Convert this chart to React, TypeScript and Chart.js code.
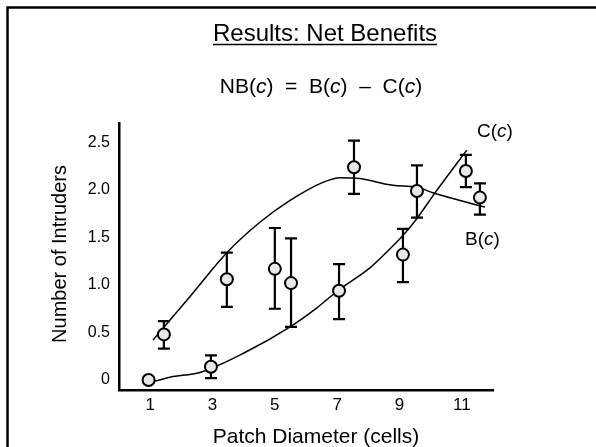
import React, { useEffect, useRef } from "react";
import { Chart, registerables } from "chart.js";

Chart.register(...registerables);

// ---- data ----
const xTicks = [1, 3, 5, 7, 9, 11];
const yTicks = [0, 0.5, 1.0, 1.5, 2.0, 2.5];

// observed points near the benefit curve B(c)
const bX = [1.44, 3.46, 5.52, 7.54, 9.56, 11.58];
const bY = [0.48, 1.06, 1.02, 2.24, 1.99, 1.92];
const bLo = [0.33, 0.77, 0.56, 1.96, 1.71, 1.74];
const bHi = [0.62, 1.34, 1.49, 2.52, 2.26, 2.07];

// observed points near the cost curve C(c)
const cX = [0.95, 2.95, 5.0, 7.06, 9.11, 11.13];
const cY = [0, 0.14, 1.17, 0.94, 1.32, 2.2];
const cLo = [null, 0.02, 0.75, 0.64, 1.03, 2.03];
const cHi = [null, 0.26, 1.6, 1.22, 1.59, 2.37];

// fitted curves
const bCurveX = [1.09, 2.28, 3.46, 4.52, 5.49, 6.54, 7.09, 7.73, 8.79, 9.56, 10.07, 11.74];
const bCurveY = [0.42, 0.88, 1.34, 1.66, 1.89, 2.08, 2.13, 2.12, 2.05, 2.03, 1.97, 1.82];
const cCurveX = [0.96, 1.64, 2.6, 4.04, 5.49, 6.35, 7.06, 8.05, 8.6, 9.11, 9.56, 10.14, 11.16];
const cCurveY = [-0.03, 0.03, 0.08, 0.29, 0.56, 0.76, 0.95, 1.18, 1.35, 1.52, 1.7, 1.97, 2.42];

const titleText = "Results: Net Benefits";
const xTitle = "Patch Diameter (cells)";
const yTitle = "Number of Intruders";

const FONT = "'Liberation Sans', Arial, Helvetica, sans-serif";

const zip = (xs: number[], ys: number[]) => xs.map((x, i) => ({ x, y: ys[i] }));

function drawRich(ctx: CanvasRenderingContext2D, parts: [string, boolean][], size: number, cx: number, y: number, align: "center" | "left") {
  const fontN = `${size}px ${FONT}`;
  const fontI = `italic ${size}px ${FONT}`;
  let total = 0;
  for (const [t, it] of parts) {
    ctx.font = it ? fontI : fontN;
    total += ctx.measureText(t).width;
  }
  let x = align === "center" ? cx - total / 2 : cx;
  ctx.textAlign = "left";
  for (const [t, it] of parts) {
    ctx.font = it ? fontI : fontN;
    ctx.fillText(t, x, y);
    x += ctx.measureText(t).width;
  }
}

const decor = {
  id: "decor",
  beforeDraw(chart: any) {
    const ctx = chart.ctx;
    ctx.save();
    ctx.fillStyle = "#fff";
    ctx.fillRect(0, 0, chart.width, chart.height);
    ctx.strokeStyle = "#000";
    ctx.lineWidth = 2.5;
    ctx.strokeRect(7.5, 7.5, 900, 900);
    ctx.restore();
  },
  afterDatasetDraw(chart: any, args: any) {
    if (args.index !== 2) return;
    const ctx = chart.ctx;
    const xs = chart.scales.x;
    const ys = chart.scales.y;
    ctx.save();
    ctx.strokeStyle = "#000";
    ctx.lineWidth = 2.2;
    const draw = (X: number[], lo: (number | null)[], hi: (number | null)[]) => {
      X.forEach((xv, i) => {
        const l = lo[i];
        const h = hi[i];
        if (l == null || h == null) return;
        const px = xs.getPixelForValue(xv);
        const pl = ys.getPixelForValue(l);
        const ph = ys.getPixelForValue(h);
        ctx.beginPath();
        ctx.moveTo(px, pl);
        ctx.lineTo(px, ph);
        ctx.moveTo(px - 6, pl);
        ctx.lineTo(px + 6, pl);
        ctx.moveTo(px - 6, ph);
        ctx.lineTo(px + 6, ph);
        ctx.stroke();
      });
    };
    draw(bX, bLo, bHi);
    draw(cX, cLo, cHi);
    ctx.restore();
  },
  afterDraw(chart: any) {
    const ctx = chart.ctx;
    ctx.save();
    ctx.fillStyle = "#000";
    ctx.textBaseline = "alphabetic";
    // title
    ctx.font = `24px ${FONT}`;
    ctx.textAlign = "center";
    const tw = ctx.measureText(titleText).width;
    const tcx = 325;
    ctx.fillText(titleText, tcx, 41);
    ctx.strokeStyle = "#000";
    ctx.lineWidth = 1.5;
    ctx.beginPath();
    ctx.moveTo(tcx - tw / 2, 44.5);
    ctx.lineTo(tcx + tw / 2, 44.5);
    ctx.stroke();
    // formula
    drawRich(ctx, [["NB(", false], ["c", true], [")  =  B(", false], ["c", true], [")  \u2013  C(", false], ["c", true], [")", false]], 21, 321, 93, "center");
    // curve labels
    drawRich(ctx, [["C(", false], ["c", true], [")", false]], 19, 477, 137, "left");
    drawRich(ctx, [["B(", false], ["c", true], [")", false]], 19, 465, 245, "left");
    // axis titles
    ctx.font = `21px ${FONT}`;
    ctx.textAlign = "center";
    ctx.fillText(xTitle, 316, 443);
    ctx.save();
    ctx.translate(66, 254);
    ctx.rotate(-Math.PI / 2);
    ctx.font = `20px ${FONT}`;
    ctx.fillText(yTitle, 0, 0);
    ctx.restore();
    ctx.restore();
  },
};

export default function App() {
  const ref = useRef<HTMLCanvasElement>(null);
  useEffect(() => {
    if (!ref.current) return;
    const chart = new Chart(ref.current, {
      type: "scatter",
      data: {
        datasets: [
          {
            data: zip(bX, bY),
            showLine: false,
            pointRadius: 6,
            pointHoverRadius: 6,
            pointBorderWidth: 2,
            pointBorderColor: "#000",
            pointBackgroundColor: "#e8e8e8",
          },
          {
            data: zip(cX, cY),
            showLine: false,
            pointRadius: 6,
            pointHoverRadius: 6,
            pointBorderWidth: 2,
            pointBorderColor: "#000",
            pointBackgroundColor: "#e8e8e8",
          },
          {
            data: zip(bCurveX, bCurveY),
            showLine: true,
            pointRadius: 0,
            borderColor: "#000",
            borderWidth: 1.5,
            cubicInterpolationMode: "monotone",
          },
          {
            data: zip(cCurveX, cCurveY),
            showLine: true,
            pointRadius: 0,
            borderColor: "#000",
            borderWidth: 1.5,
            cubicInterpolationMode: "monotone",
          },
        ],
      } as any,
      options: {
        animation: false,
        responsive: false,
        devicePixelRatio: 1,
        layout: { padding: { left: 0, top: 123, right: 103, bottom: 0 } },
        plugins: { legend: { display: false }, tooltip: { enabled: false }, title: { display: false } },
        scales: {
          x: {
            type: "linear",
            min: 0,
            max: 12,
            grid: { display: false, drawTicks: false },
            border: { display: true, color: "#000", width: 2.5 },
            ticks: { color: "#000", font: { family: FONT, size: 17 }, padding: 5 },
            afterBuildTicks: (s: any) => {
              s.ticks = xTicks.map((v) => ({ value: v }));
            },
            afterFit: (s: any) => {
              s.height = 57;
            },
          },
          y: {
            type: "linear",
            min: -0.105,
            max: 2.705,
            grid: { display: false, drawTicks: false },
            border: { display: true, color: "#000", width: 2.5 },
            ticks: {
              color: "#000",
              font: { family: FONT, size: 16 },
              padding: 9,
              callback: (v: any) => (Number(v) === 0 ? "0" : Number(v).toFixed(1)),
            },
            afterBuildTicks: (s: any) => {
              s.ticks = yTicks.map((v) => ({ value: v }));
            },
            afterFit: (s: any) => {
              s.width = 119;
            },
          },
        },
      } as any,
      plugins: [decor],
    });
    return () => chart.destroy();
  }, []);
  return (
    <div style={{ position: "fixed", left: 0, top: 0, width: 596, height: 447, background: "#fff" }}>
      <canvas ref={ref} width={596} height={447} style={{ display: "block", width: 596, height: 447 }} />
    </div>
  );
}
